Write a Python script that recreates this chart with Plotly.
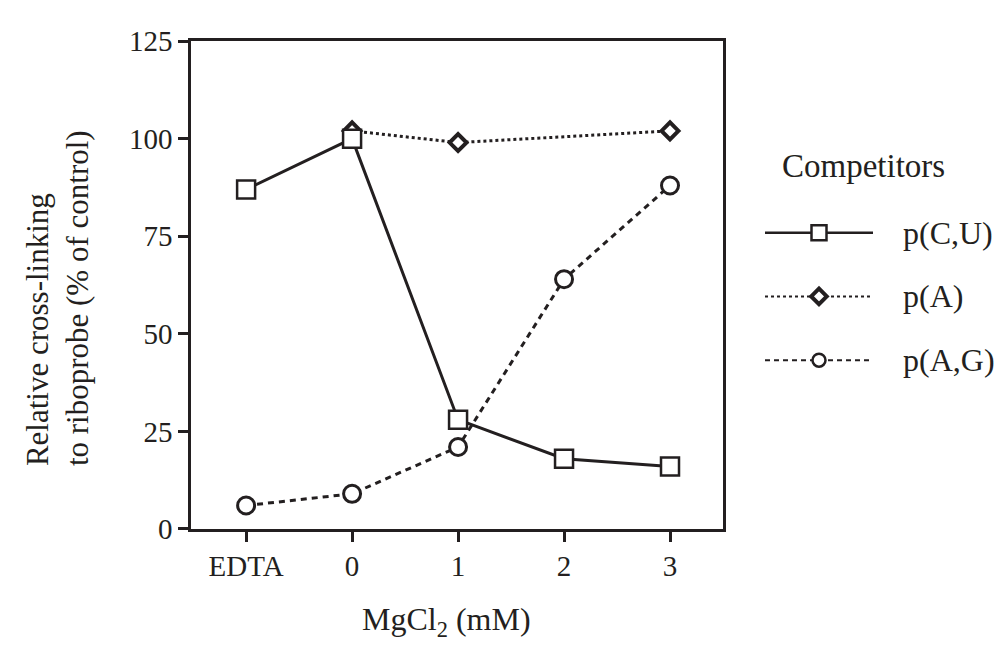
import plotly.graph_objects as go

categories = ["EDTA", "0", "1", "2", "3"]
cu_values = [87, 100, 28, 18, 16]
a_values = [None, 102, 99, None, 102]
ag_values = [6, 9, 21, 64, 88]
y_ticks = [0, 25, 50, 75, 100, 125]
legend_names = ["p(C,U)", "p(A)", "p(A,G)"]

INK = "#231f20"
FONT = "Liberation Serif"
W, H = 1003, 652
L, R, T, B = 183, 715, 18, 531

fig = go.Figure()

fig.add_trace(go.Scatter(
    x=categories, y=a_values, mode="lines+markers", connectgaps=True,
    line=dict(color=INK, width=3, dash="dot"),
    marker=dict(symbol="diamond", size=13, color="white", line=dict(color=INK, width=4)),
    showlegend=False))
fig.add_trace(go.Scatter(
    x=categories, y=ag_values, mode="lines+markers",
    line=dict(color=INK, width=3, dash="6px,5px"),
    marker=dict(symbol="circle", size=17, color="white", line=dict(color=INK, width=3)),
    showlegend=False))
fig.add_trace(go.Scatter(
    x=categories, y=cu_values, mode="lines+markers",
    line=dict(color=INK, width=3),
    marker=dict(symbol="square", size=18, color="white", line=dict(color=INK, width=2.5)),
    showlegend=False))

# legend samples drawn on a helper axis
leg_rows = [0, 1, 2]
leg_styles = [
    (dict(color=INK, width=2.5), dict(symbol="square", size=15, color="white", line=dict(color=INK, width=2.5))),
    (dict(color=INK, width=2, dash="dot"), dict(symbol="diamond", size=12, color="white", line=dict(color=INK, width=4))),
    (dict(color=INK, width=2, dash="5px,4px"), dict(symbol="circle", size=13, color="white", line=dict(color=INK, width=2.5))),
]
for row, (ln, mk) in zip(leg_rows, leg_styles):
    fig.add_trace(go.Scatter(x=[0, 1], y=[row, row], mode="lines", line=ln,
                             xaxis="x2", yaxis="y2", showlegend=False, hoverinfo="skip"))
    fig.add_trace(go.Scatter(x=[0.5], y=[row], mode="markers", marker=mk,
                             xaxis="x2", yaxis="y2", showlegend=False, hoverinfo="skip"))

row_top, row_h = 186, 67
annotations = [
    dict(text="Competitors", x=855 / W, y=1 - 149 / H, xref="paper", yref="paper",
         showarrow=False, xanchor="center", yanchor="middle",
         font=dict(family=FONT, size=33, color=INK)),
    dict(text="MgCl<sub>2</sub> (mM)", x=438 / W, y=1 - 628 / H, xref="paper", yref="paper",
         showarrow=False, xanchor="center", yanchor="middle",
         font=dict(family=FONT, size=32, color=INK)),
    dict(text="Relative cross-linking<br>to riboprobe (% of control)", x=49 / W, y=1 - 467 / H,
         xref="paper", yref="paper", showarrow=False, textangle=-90, align="left",
         xanchor="center", yanchor="bottom",
         font=dict(family=FONT, size=31, color=INK)),
]
for row, name in zip(leg_rows, legend_names):
    annotations.append(dict(text=name, x=893 / W, y=1 - (row_top + (row + 0.5) * row_h) / H,
                            xref="paper", yref="paper", showarrow=False,
                            xanchor="left", yanchor="middle",
                            font=dict(family=FONT, size=32, color=INK)))

axis_common = dict(showline=True, linewidth=2.5, linecolor=INK, mirror=True,
                   ticks="outside", ticklen=10, tickwidth=2.5, tickcolor=INK,
                   showgrid=False, zeroline=False,
                   tickfont=dict(family=FONT, size=29, color=INK))

fig.update_layout(
    width=W, height=H, margin=dict(l=0, r=0, t=0, b=0),
    paper_bgcolor="white", plot_bgcolor="white",
    xaxis=dict(type="category", categoryarray=categories, range=[-0.52, 4.5],
               domain=[L / W, R / W], anchor="y", **axis_common),
    yaxis=dict(range=[0, 125], tickvals=y_ticks, domain=[1 - B / H, 1 - T / H],
               anchor="x", **axis_common),
    xaxis2=dict(domain=[757 / W, 865 / W], range=[0, 1], visible=False, anchor="y2"),
    yaxis2=dict(domain=[1 - (row_top + 3 * row_h) / H, 1 - row_top / H], range=[2.5, -0.5],
                visible=False, anchor="x2"),
    annotations=annotations,
)

fig.write_html("out.html")
